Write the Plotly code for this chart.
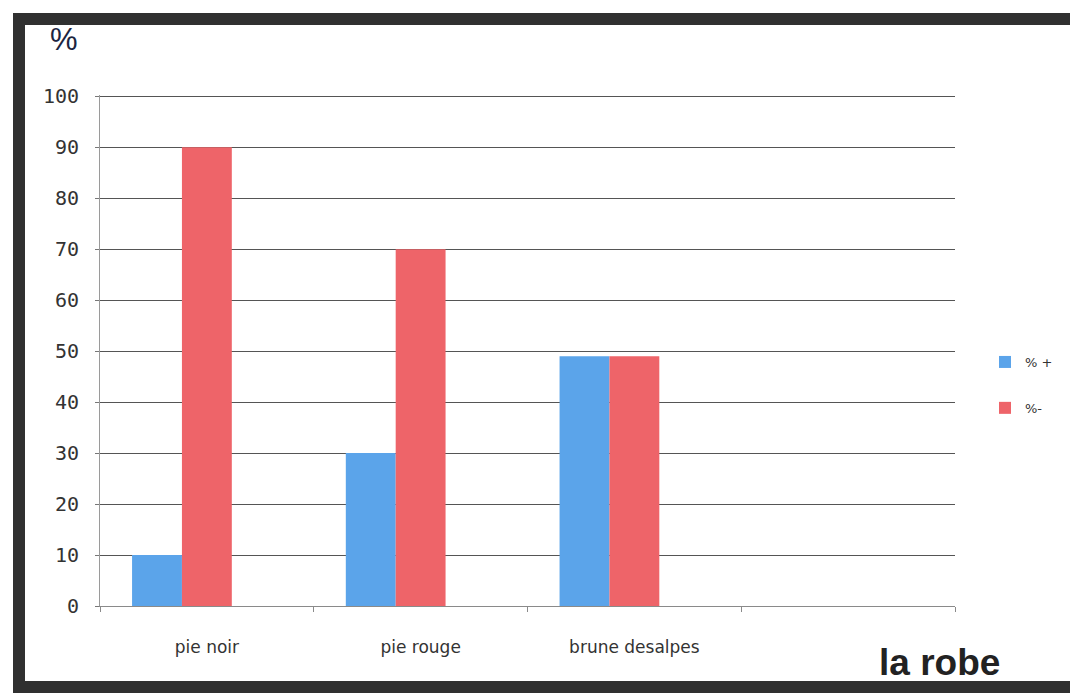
import plotly.graph_objects as go

categories = ["pie noir", "pie rouge", "brune desalpes", " "]
pct_plus = [10, 30, 49, None]
pct_minus = [90, 70, 49, None]
empty_series = [None, None, None, None]
y_ticks = [0, 10, 20, 30, 40, 50, 60, 70, 80, 90, 100]

W, H = 1070, 695
L, R, T, B = 100, 115, 95, 89
PW, PH = W - L - R, H - T - B


def px_x(p):
    return (p - L) / PW


def px_y(p):
    return (H - B - p) / PH


fig = go.Figure()
fig.add_trace(go.Bar(x=categories, y=pct_plus, name="% +", marker_color="#5ba4ea",
                     marker_line_width=0, legendgroup="a"))
fig.add_trace(go.Bar(x=categories, y=pct_minus, name="%-", marker_color="#ee6469",
                     marker_line_width=0, legendgroup="b"))
fig.add_trace(go.Bar(x=categories, y=empty_series, name="", showlegend=False,
                     marker_color="#ffffff", marker_line_width=0))

fig.update_layout(
    width=W, height=H,
    margin=dict(l=L, r=R, t=T, b=B, autoexpand=False),
    paper_bgcolor="white", plot_bgcolor="white",
    barmode="group", bargap=0.3, bargroupgap=0,
    showlegend=True,
    legend=dict(x=px_x(985), y=px_y(347), xanchor="left", yanchor="top",
                font=dict(family="DejaVu Sans", size=13, color="#333"),
                tracegroupgap=26, itemwidth=30, bgcolor="rgba(0,0,0,0)"),
    xaxis=dict(type="category", categoryorder="array", categoryarray=categories,
               range=[-0.5, 3.5], showgrid=False, showline=True, linecolor="#8a8a8a",
               linewidth=1, ticks="outside", tickson="boundaries", ticklen=5,
               tickcolor="#8a8a8a", ticklabelstandoff=26,
               tickfont=dict(family="DejaVu Sans", size=17, color="#333")),
    yaxis=dict(range=[0, 100.25], tickvals=y_ticks, showgrid=True, gridcolor="#555",
               gridwidth=1, showline=True, linecolor="#9a9a9a", linewidth=1,
               ticks="outside", ticklen=4, tickcolor="#777", zeroline=False,
               ticklabelstandoff=12,
               tickfont=dict(family="DejaVu Sans Mono", size=20, color="#333")),
    annotations=[
        dict(text="%", xref="paper", yref="paper", x=px_x(48), y=px_y(20),
             xanchor="left", yanchor="top", showarrow=False,
             font=dict(family="Liberation Sans", size=31, color="#1c2540")),
        dict(text="<b>la robe</b>", xref="paper", yref="paper", x=px_x(877), y=px_y(685),
             xanchor="left", yanchor="bottom", showarrow=False,
             font=dict(family="Liberation Sans", size=37, color="#222")),
    ],
    shapes=[
        dict(type="rect", xref="paper", yref="paper", x0=px_x(19), x1=px_x(1110),
             y0=px_y(687), y1=px_y(19), line=dict(color="#303030", width=12),
             fillcolor="rgba(0,0,0,0)", layer="above"),
    ],
)

fig.write_html("out.html")
